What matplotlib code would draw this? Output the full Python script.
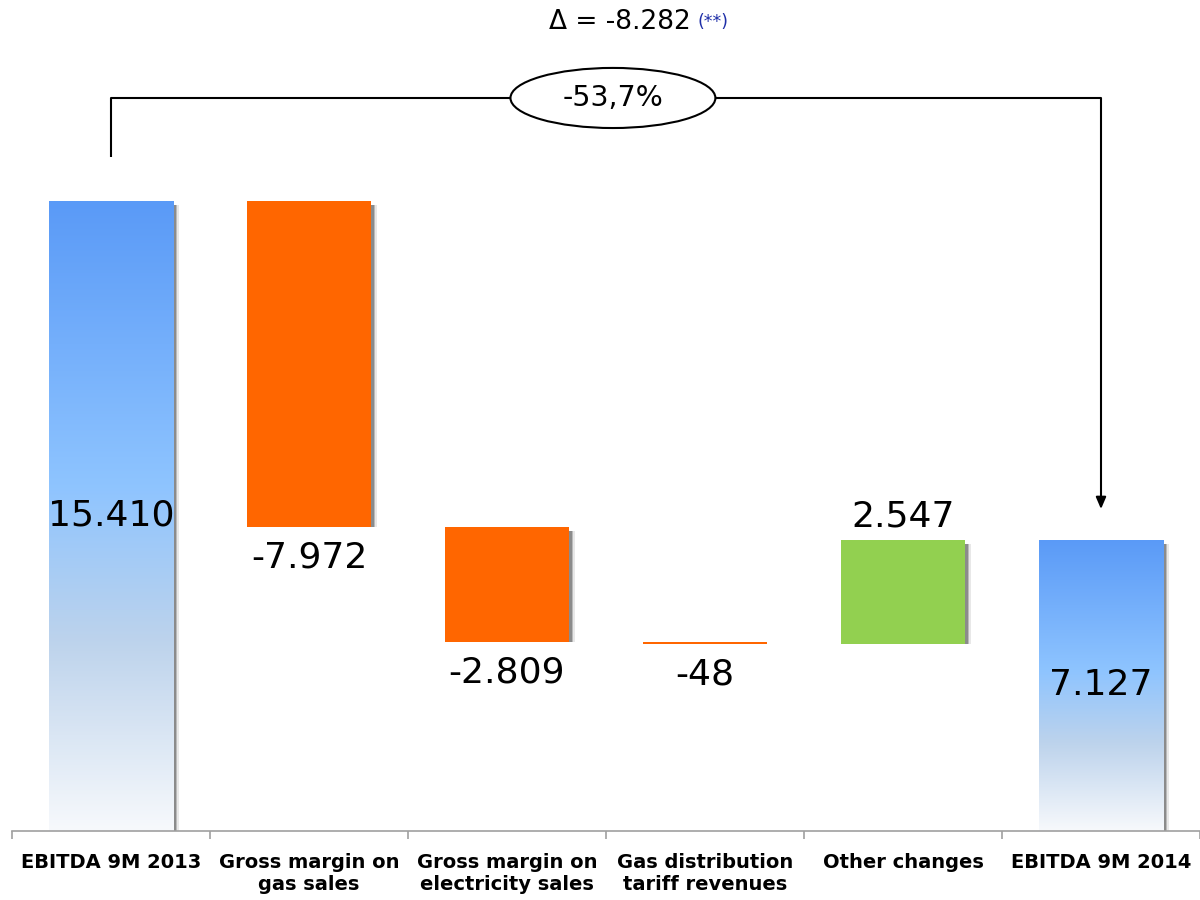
import numpy as np
import matplotlib
matplotlib.use("Agg")
import matplotlib.pyplot as plt
from matplotlib.colors import LinearSegmentedColormap
from matplotlib.patches import Rectangle, Ellipse

# EBITDA bridge, 9M 2013 -> 9M 2014
categories = ["EBITDA 9M 2013", "Gross margin on\ngas sales",
              "Gross margin on\nelectricity sales", "Gas distribution\ntariff revenues",
              "Other changes", "EBITDA 9M 2014"]
values = [15410, -7972, -2809, -48, 2547, 7127]
is_total = [True, False, False, False, False, True]
delta_text = "\u0394 = -8.282"
delta_note = "(**)"
pct_text = "-53,7%"

ORANGE = "#FF6600"
GREEN = "#92D050"
blue_map = LinearSegmentedColormap.from_list(
    "ebitda", [(0.0, "#F7F9FC"), (0.3, "#BDD3EC"), (0.55, "#8EC4FF"), (1.0, "#5A9AF7")])

def fmt(v):
    return f"{v:,}".replace(",", ".")

# waterfall geometry
bottoms, tops = [], []
running = 0
for v, tot in zip(values, is_total):
    if tot:
        b, t = 0, v
        running = v
    else:
        start = running
        running = running + v
        b, t = min(start, running), max(start, running)
    bottoms.append(b)
    tops.append(t)

fig = plt.figure(figsize=(12, 9), dpi=100)
base_px = 831
scale = 630 / 15410  # px per unit
ax = fig.add_axes([0.01, 1 - base_px / 900, 0.99, base_px / 900])
ax.set_xlim(-0.5, 5.5)
ax.set_ylim(0, base_px / scale)

width = 0.63
x = np.arange(len(values))
for i, (b, t, v, tot) in enumerate(zip(bottoms, tops, values, is_total)):
    h = max(t - b, 1)
    # soft drop shadow on the right
    if abs(v) > 200:
        for dx, a in [(0.011, 0.55), (0.019, 0.35), (0.027, 0.15)]:
            ax.add_patch(Rectangle((x[i] - width / 2 + dx, b), width, h - 110,
                                   facecolor="#666666", edgecolor="none", alpha=a, zorder=1))
    if tot:
        rect = Rectangle((x[i] - width / 2, b), width, h, facecolor="none",
                         edgecolor="none", zorder=2)
        ax.add_patch(rect)
        grad = np.linspace(0, 1, 256).reshape(-1, 1)
        im = ax.imshow(grad, cmap=blue_map, aspect="auto", origin="lower",
                       extent=[x[i] - width / 2, x[i] + width / 2, b, t], zorder=2)
        im.set_clip_path(rect)
    else:
        color = GREEN if v > 0 else ORANGE
        ax.bar(x[i], h, bottom=b, width=width, color=color, zorder=2, linewidth=0)

    # value labels
    if tot:
        ax.text(x[i], (b + t) / 2, fmt(v), ha="center", va="center", fontsize=26, zorder=5)
    elif v < 0:
        ax.text(x[i], b - 330, fmt(v), ha="center", va="top", fontsize=26, zorder=5)
    else:
        ax.text(x[i], t + 330, fmt(v), ha="center", va="baseline", fontsize=26, zorder=5)

# bracket from first to last total
y_start = tops[0] + 1080
y_top = tops[0] + 2520
y_tip = tops[-1] + 680
ax.plot([x[0], x[0], x[-1], x[-1]], [y_start, y_top, y_top, y_tip + 300],
        color="black", lw=1.5, zorder=3, solid_capstyle="butt")
ax.annotate("", xy=(x[-1], y_tip), xytext=(x[-1], y_tip + 400),
            arrowprops=dict(arrowstyle="-|>,head_length=0.7,head_width=0.3",
                            color="black", lw=1.5), zorder=3)
cx = 2.535
ax.add_patch(Ellipse((cx, y_top), 1.035, 1470, facecolor="white",
                     edgecolor="black", lw=1.5, zorder=4))
ax.text(cx, y_top, pct_text, ha="center", va="center", fontsize=20.5, zorder=5)

# delta headline
ax.text(2.93, y_top + 1870, delta_text, ha="right", va="center", fontsize=19)
ax.text(2.96, y_top + 1870, delta_note, ha="left", va="center", fontsize=12.5, color="#1F2FA8")

# axes styling
for s in ["left", "right", "top"]:
    ax.spines[s].set_visible(False)
ax.spines["bottom"].set_color("#A0A0A0")
ax.spines["bottom"].set_linewidth(1.2)
ax.set_yticks([])
ax.set_xticks(x)
ax.set_xticklabels(categories, fontsize=14, fontweight="bold", linespacing=1.2)
ax.tick_params(axis="x", which="major", length=0, pad=16)
ax.set_xticks(np.arange(-0.5, 6.0, 1.0), minor=True)
ax.tick_params(axis="x", which="minor", length=6, color="#A0A0A0", width=1.2)

fig.savefig("out.png", dpi=100, facecolor="white")
